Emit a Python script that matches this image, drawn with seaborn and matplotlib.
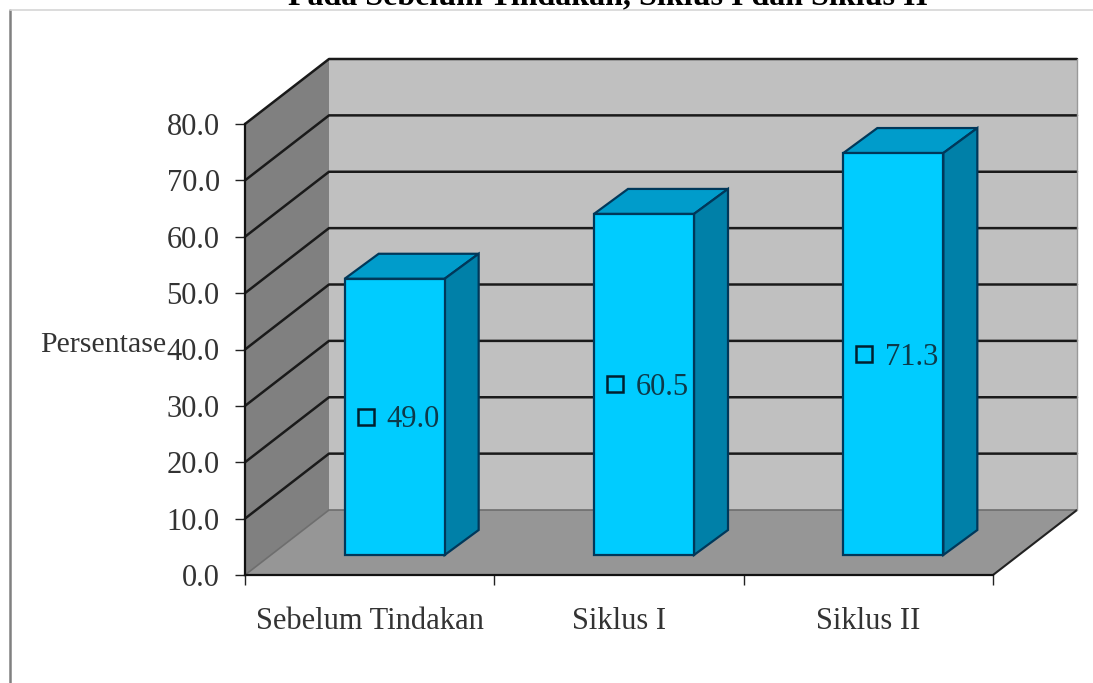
import numpy as np
import pandas as pd
import matplotlib
matplotlib.use("Agg")
import matplotlib.pyplot as plt
from matplotlib.lines import Line2D
from matplotlib.transforms import Affine2D
import seaborn as sns

# Chart content
categories = ["Sebelum Tindakan", "Siklus I", "Siklus II"]
percentages = [49.0, 60.5, 71.3]
y_ticks = [0, 10, 20, 30, 40, 50, 60, 70, 80]
title_text = "Pada Sebelum Tindakan, Siklus I dan Siklus II"
y_title = "Persentase"

sns.set_theme(style="white")
plt.rcParams["font.family"] = ["Liberation Serif", "DejaVu Serif"]

W, H = 1093, 683
fig = plt.figure(figsize=(W / 100, H / 100), dpi=100, facecolor="white")
left, right, bottom, top = 245, 993, 575, 124
ax = fig.add_axes([left / W, 1 - bottom / H, (right - left) / W, (bottom - top) / H])

frame = pd.DataFrame({"category": categories, "value": percentages})
xmin, xmax, ymin, ymax = -0.5, 2.5, 0, 80
px_x = (xmax - xmin) / (right - left)   # data units per pixel, horizontally
px_y = (ymax - ymin) / (bottom - top)   # data units per pixel, vertically

# Oblique projection used for the box and the bars
wall_dx, wall_dy = 84 * px_x, 65 * px_y
bar_dx, bar_dy = 25 * px_x, 20 * px_y
side_dx, side_dy = 34 * px_x, 25 * px_y
bar_width = 100 * px_x

sns.barplot(data=frame, x="category", y="value", color="#00ccff", width=bar_width,
            saturation=1, ax=ax, zorder=5, edgecolor="#00385a", linewidth=1.6)
ax.set_xlim(xmin, xmax)
ax.set_ylim(ymin, ymax)
ax.patch.set_alpha(0)

# Box: side wall, back wall, floor
ax.fill([xmin, xmin + wall_dx, xmin + wall_dx, xmin],
        [ymin, ymin + wall_dy, ymax + wall_dy, ymax],
        color="#808080", clip_on=False, zorder=1, lw=0)
ax.fill([xmin + wall_dx, xmax + wall_dx, xmax + wall_dx, xmin + wall_dx],
        [ymin + wall_dy, ymin + wall_dy, ymax + wall_dy, ymax + wall_dy],
        color="#c0c0c0", clip_on=False, zorder=1, lw=0)
ax.fill([xmin, xmax, xmax + wall_dx, xmin + wall_dx],
        [ymin, ymin, ymin + wall_dy, ymin + wall_dy],
        color="#969696", clip_on=False, zorder=2, lw=0)

# Gridlines run along the side wall and across the back wall
for tick in y_ticks[1:]:
    ax.plot([xmin, xmin + wall_dx, xmax + wall_dx],
            [tick, tick + wall_dy, tick + wall_dy],
            color="#1a1a1a", lw=1.8, clip_on=False, zorder=3)
ax.plot([xmin, xmin + wall_dx, xmax + wall_dx],
        [ymin, ymin + wall_dy, ymin + wall_dy],
        color="#6e6e6e", lw=1.2, clip_on=False, zorder=3)
ax.plot([xmax, xmax + wall_dx], [ymin, ymin + wall_dy],
        color="#222222", lw=1.5, clip_on=False, zorder=3)
ax.plot([xmax + wall_dx, xmax + wall_dx], [ymin + wall_dy, ymax + wall_dy],
        color="#999999", lw=1, clip_on=False, zorder=3)

# Front faces sit forward of the floor edge; add the top and side faces
shift = Affine2D().translate(bar_dx, bar_dy) + ax.transData
for patch in ax.patches:
    if patch.get_zorder() == 5:
        patch.set_transform(shift)
        patch.set_clip_on(False)

for i, value in enumerate(percentages):
    x0 = i - bar_width / 2 + bar_dx
    x1 = i + bar_width / 2 + bar_dx
    y0 = bar_dy
    y1 = value + bar_dy
    ax.fill([x0, x1, x1 + side_dx, x0 + side_dx],
            [y1, y1, y1 + side_dy, y1 + side_dy],
            facecolor="#009ccb", edgecolor="#00385a", lw=1.6, clip_on=False, zorder=4)
    ax.fill([x1, x1 + side_dx, x1 + side_dx, x1],
            [y0, y0 + side_dy, y1 + side_dy, y1],
            facecolor="#0080a8", edgecolor="#00385a", lw=1.6, clip_on=False, zorder=4)
    # Value label with its legend key, at mid height of the front face
    key_x = i + bar_dx - 29 * px_x
    label_y = value / 2 + bar_dy
    ax.plot([key_x], [label_y], marker="s", ms=11, mfc="none", mec="#00202e", mew=1.8,
            clip_on=False, zorder=6)
    ax.text(key_x + 21 * px_x, label_y - 3 * px_y, f"{value:.1f}", fontsize=22, color="#0d3a4a",
            ha="left", va="center", zorder=6)

# Axes
sns.despine(ax=ax, top=True, right=True)
for side in ("left", "bottom"):
    ax.spines[side].set_color("#111111")
    ax.spines[side].set_linewidth(1.6)
    ax.spines[side].set_zorder(4)
ax.spines["bottom"].set_zorder(3)

ax.set_yticks(y_ticks)
ax.set_yticklabels([f"{t:.1f}" for t in y_ticks], fontsize=22, color="#333333")
ax.tick_params(axis="y", which="major", left=True, length=7.2, width=1, color="#222222", pad=11)

ax.set_xticks([xmin, 0.5, 1.5, xmax])
ax.set_xticklabels([])
ax.set_xticks(range(len(categories)), minor=True)
ax.set_xticklabels(categories, minor=True, fontsize=22, color="#333333")
ax.tick_params(axis="x", which="major", bottom=True, length=7.2, width=1, color="#222222")
ax.tick_params(axis="x", which="minor", bottom=False, length=0, pad=23)
ax.set_xlabel("")
ax.set_ylabel("")
ax.grid(False)

fig.text(103 / W, 1 - 345 / H, y_title, fontsize=21.5, color="#333333", ha="center", va="center")
fig.text(608 / W, 1 - 4 / H, title_text, fontsize=23, fontweight="bold", color="black",
         ha="center", va="baseline")

# Page frame around the chart
fig.add_artist(Line2D([10 / W, 10 / W], [0, 1 - 10 / H], color="#808080", lw=1.8))
fig.add_artist(Line2D([10 / W, 1], [1 - 10 / H, 1 - 10 / H], color="#d6d6d6", lw=1.2))

fig.savefig("out.png", dpi=100)
